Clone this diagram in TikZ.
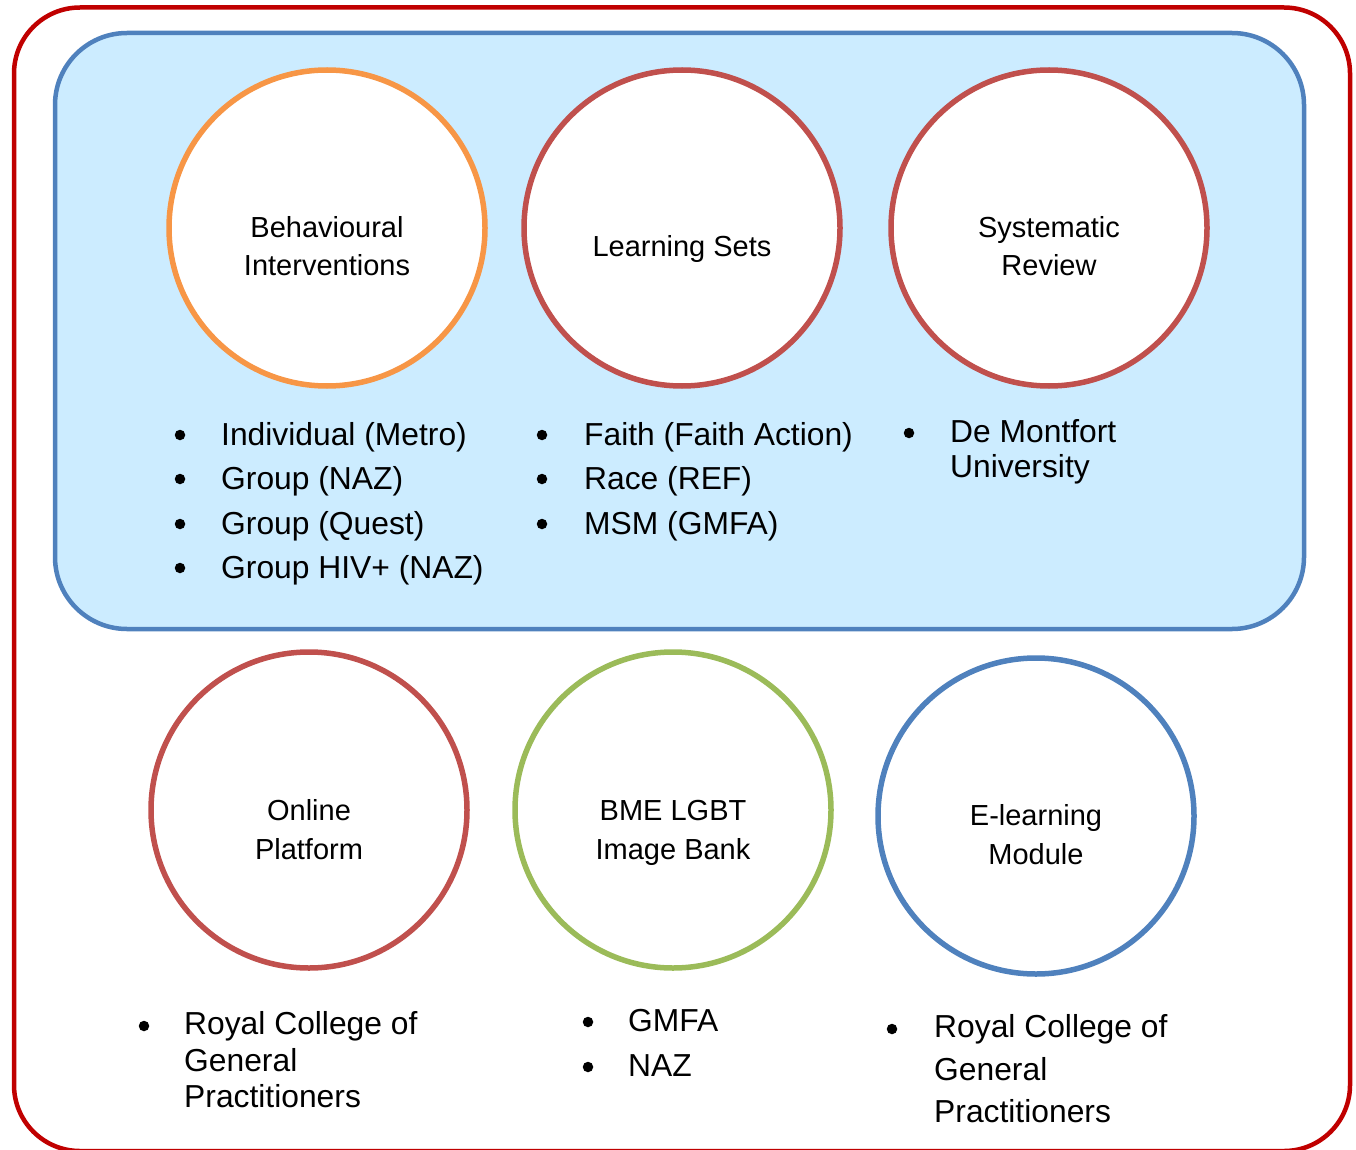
\documentclass[tikz,border=0pt]{standalone}
\usepackage{fontspec}
\setmainfont{Liberation Sans}
\definecolor{frameRed}{HTML}{C00000}
\definecolor{panelBlue}{HTML}{4F81BD}
\definecolor{panelFill}{HTML}{CCECFF}
\definecolor{ringOrange}{HTML}{F79646}
\definecolor{ringRed}{HTML}{C0504D}
\definecolor{ringGreen}{HTML}{9BBB59}
\definecolor{ringBlue}{HTML}{4F81BD}
\begin{document}
\begin{tikzpicture}[x=1pt,y=-1pt,
  ring/.style={circle, draw=#1, line width=5.5pt, fill=white, minimum size=316pt, inner sep=0pt},
  ctext/.style={anchor=base, inner sep=0pt, font=\fontsize{29}{35}\selectfont},
  item/.style={anchor=base west, inner sep=0pt, font=\fontsize{31.8}{36}\selectfont},
  dot/.style={inner sep=0pt, circle, fill=black, minimum size=10.5pt}]

\useasboundingbox (0,0) rectangle (1356,1150);

% outer frame
\draw[frameRed, line width=4.5pt, rounded corners=66pt] (14,7.5) rectangle (1350,1151);
% shaded panel
\draw[panelBlue, fill=panelFill, line width=4.5pt, rounded corners=72pt] (55,33) rectangle (1304,629);

% rings
\node[ring=ringOrange] (c1) at (327,228) {};
\node[ring=ringRed]    (c2) at (682,228) {};
\node[ring=ringRed]    (c3) at (1049,228) {};
\node[ring=ringRed]    (c4) at (309,810) {};
\node[ring=ringGreen]  (c5) at (673,810) {};
\node[ring=ringBlue]   (c6) at (1036,816) {};

% ring titles
\node[ctext] (t1a) at (327,237) {Behavioural};
\node[ctext] (t1b) at (327,275) {Interventions};
\node[ctext] (t2a) at (682,256) {Learning Sets};
\node[ctext] (t3a) at (1049,237) {Systematic};
\node[ctext] (t3b) at (1049,275) {Review};
\node[ctext] (t4a) at (309,820) {Online};
\node[ctext] (t4b) at (309,859) {Platform};
\node[ctext] (t5a) at (673,820) {BME LGBT};
\node[ctext] (t5b) at (673,859) {Image Bank};
\node[ctext] (t6a) at (1036,825) {E-learning};
\node[ctext] (t6b) at (1036,864) {Module};

% behavioural interventions list
\node[dot]  (b1d1) at (180,435) {};
\node[item] (b1i1) at (221,445) {Individual (Metro)};
\node[dot]  (b1d2) at (180,479) {};
\node[item] (b1i2) at (221,489) {Group (NAZ)};
\node[dot]  (b1d3) at (180,524) {};
\node[item] (b1i3) at (221,534) {Group (Quest)};
\node[dot]  (b1d4) at (180,568) {};
\node[item] (b1i4) at (221,578) {Group HIV+ (NAZ)};

% learning sets list
\node[dot]  (b2d1) at (542,435) {};
\node[item] (b2i1) at (584,445) {Faith (Faith Action)};
\node[dot]  (b2d2) at (542,479) {};
\node[item] (b2i2) at (584,489) {Race (REF)};
\node[dot]  (b2d3) at (542,524) {};
\node[item] (b2i3) at (584,534) {MSM (GMFA)};

% systematic review list
\node[dot]  (b3d1) at (909,433) {};
\node[item] (b3i1) at (950,442) {De Montfort};
\node[item] (b3i2) at (950,477) {University};

% online platform list
\node[dot]  (b4d1) at (144,1026) {};
\node[item] (b4i1) at (184,1034) {Royal College of};
\node[item] (b4i2) at (184,1071) {General};
\node[item] (b4i3) at (184,1107) {Practitioners};

% image bank list
\node[dot]  (b5d1) at (588,1022) {};
\node[item] (b5i1) at (628,1031) {GMFA};
\node[dot]  (b5d2) at (588,1067) {};
\node[item] (b5i2) at (628,1076) {NAZ};

% e-learning list
\node[dot]  (b6d1) at (892,1029) {};
\node[item] (b6i1) at (934,1037) {Royal College of};
\node[item] (b6i2) at (934,1080) {General};
\node[item] (b6i3) at (934,1122) {Practitioners};

\end{tikzpicture}
\end{document}
